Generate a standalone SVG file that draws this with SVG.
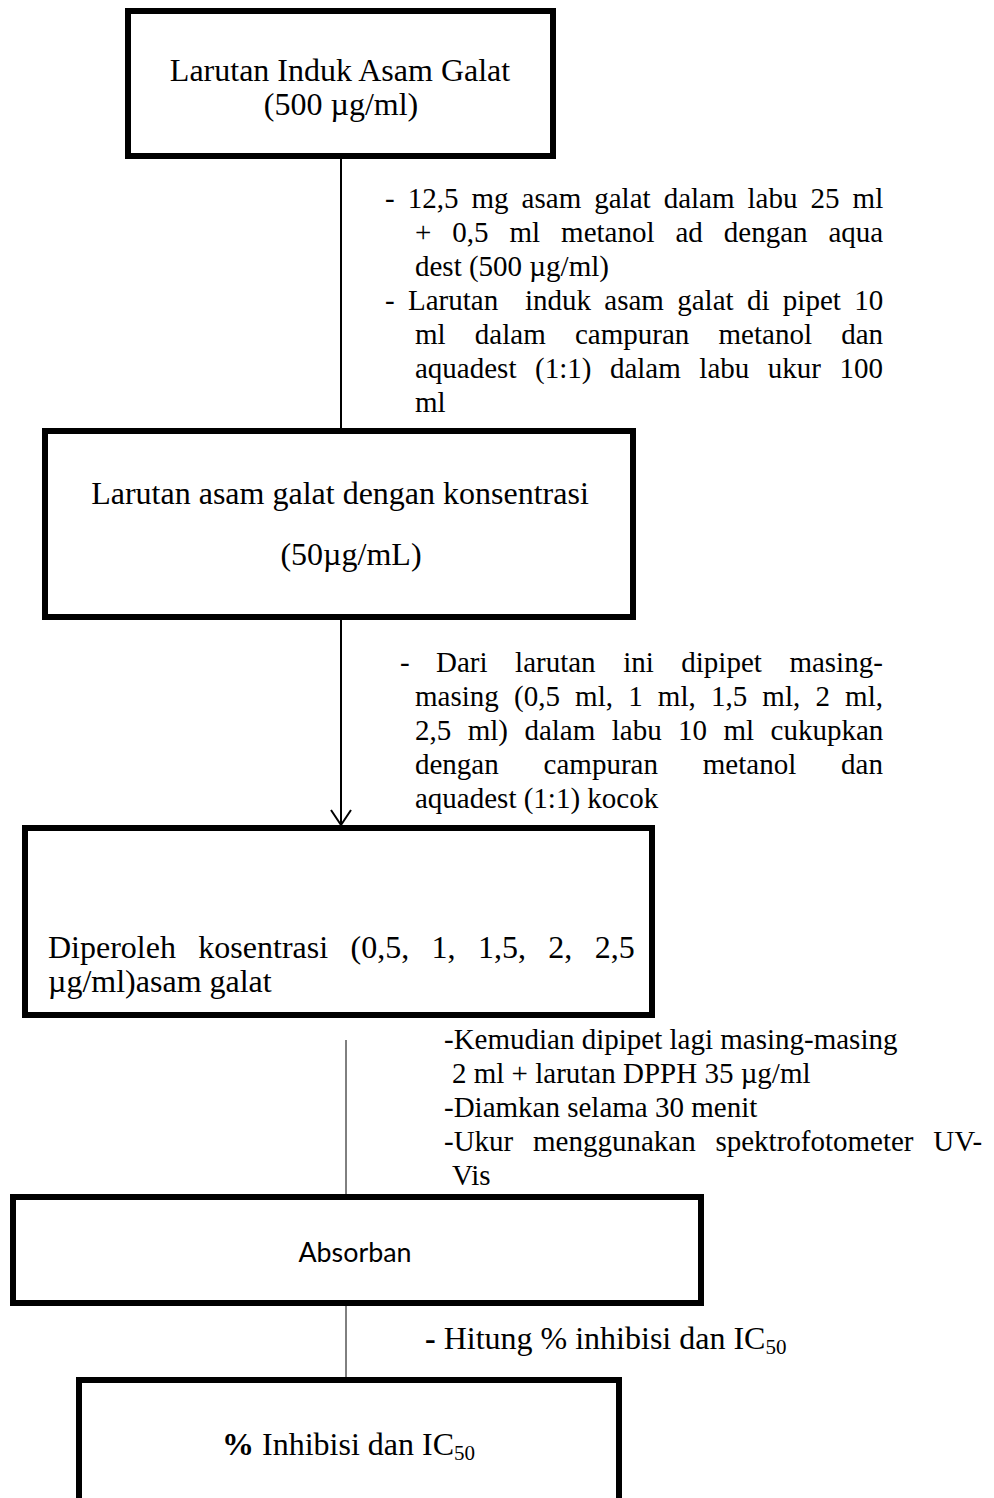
<svg xmlns="http://www.w3.org/2000/svg" width="994" height="1498" viewBox="0 0 994 1498">
<defs>
<marker id="vhead" viewBox="0 0 18 24" refX="16" refY="12" markerWidth="18" markerHeight="24" markerUnits="userSpaceOnUse" orient="auto">
<path d="M1,2 L16,12 L1,22" fill="none" stroke="#000" stroke-width="2"/>
</marker>
<style>
.box{fill:#fff;stroke:#000;stroke-width:6}
.t{font-family:"Liberation Serif","Times New Roman",serif;font-size:29px;fill:#000}
.b{font-family:"Liberation Serif","Times New Roman",serif;font-size:32px;fill:#000}
.s{font-family:Lato,"Open Sans","Liberation Sans",sans-serif;font-size:26px;fill:#000}
.c{text-anchor:middle}
.edge{stroke:#000;fill:none}
</style>
</defs>
<rect width="994" height="1498" fill="#fff"/>

<g id="n1">
<rect class="box" x="128" y="11" width="425" height="145"/>
<text class="b c" x="340" y="81">Larutan Induk Asam Galat</text>
<text class="b c" x="341" y="115">(500 µg/ml)</text>
</g>

<g id="n2">
<rect class="box" x="45" y="431" width="588" height="186"/>
<text class="b c" x="340" y="504">Larutan asam galat dengan konsentrasi</text>
<text class="b c" x="351" y="565">(50µg/mL)</text>
</g>

<g id="n3">
<rect class="box" x="25" y="828" width="627" height="187"/>
<text class="b" x="48" y="958" word-spacing="14.4">Diperoleh kosentrasi (0,5, 1, 1,5, 2, 2,5</text>
<text class="b" x="48" y="992">µg/ml)asam galat</text>
</g>

<g id="n4">
<rect class="box" x="13" y="1197" width="688" height="106"/>
<text class="s c" x="355" y="1262" textLength="113" lengthAdjust="spacingAndGlyphs">Absorban</text>
</g>

<g id="n5">
<rect class="box" x="79" y="1380" width="540" height="200"/>
<text class="b" x="222" y="1455"><tspan font-weight="bold">%</tspan> Inhibisi dan IC<tspan font-size="21" dy="5">50</tspan></text>
</g>

<g id="connectors">
<line class="edge" x1="341" y1="158" x2="341" y2="429" stroke-width="2"/>
<line class="edge" x1="341" y1="620" x2="341" y2="825" stroke-width="2" marker-end="url(#vhead)"/>
<line class="edge" x1="346" y1="1040" x2="346" y2="1194" stroke-width="1"/>
<line class="edge" x1="346" y1="1306" x2="346" y2="1377" stroke-width="1"/>
</g>

<g id="labels">
<text class="t" x="385" y="208" word-spacing="5.8">- 12,5 mg asam galat dalam labu 25 ml</text>
<text class="t" x="415" y="242" word-spacing="13.7">+ 0,5 ml metanol ad dengan aqua</text>
<text class="t" x="415" y="276">dest (500 µg/ml)</text>
<text class="t" x="385" y="310" word-spacing="6.1" xml:space="preserve">- Larutan  induk asam galat di pipet 10</text>
<text class="t" x="415" y="344" word-spacing="22">ml dalam campuran metanol dan</text>
<text class="t" x="415" y="378" word-spacing="11.3">aquadest (1:1) dalam labu ukur 100</text>
<text class="t" x="415" y="412">ml</text>

<text class="t" x="400" y="672">-</text>
<text class="t" x="436" y="672" word-spacing="20.3">Dari larutan ini dipipet masing-</text>
<text class="t" x="415" y="706" word-spacing="7.95">masing (0,5 ml, 1 ml, 1,5 ml, 2 ml,</text>
<text class="t" x="415" y="740" word-spacing="9.2">2,5 ml) dalam labu 10 ml cukupkan</text>
<text class="t" x="415" y="774" word-spacing="37.6">dengan campuran metanol dan</text>
<text class="t" x="415" y="808">aquadest (1:1) kocok</text>

<text class="t" x="444" y="1049">-Kemudian dipipet lagi masing-masing</text>
<text class="t" x="452" y="1083">2 ml + larutan DPPH 35 µg/ml</text>
<text class="t" x="444" y="1117">-Diamkan selama 30 menit</text>
<text class="t" x="444" y="1151" word-spacing="12.5">-Ukur menggunakan spektrofotometer UV-</text>
<text class="t" x="452" y="1185">Vis</text>

<text class="b" x="425" y="1349"><tspan font-weight="bold">-</tspan> Hitung % inhibisi dan IC<tspan font-size="21" dy="5">50</tspan></text>
</g>
</svg>
